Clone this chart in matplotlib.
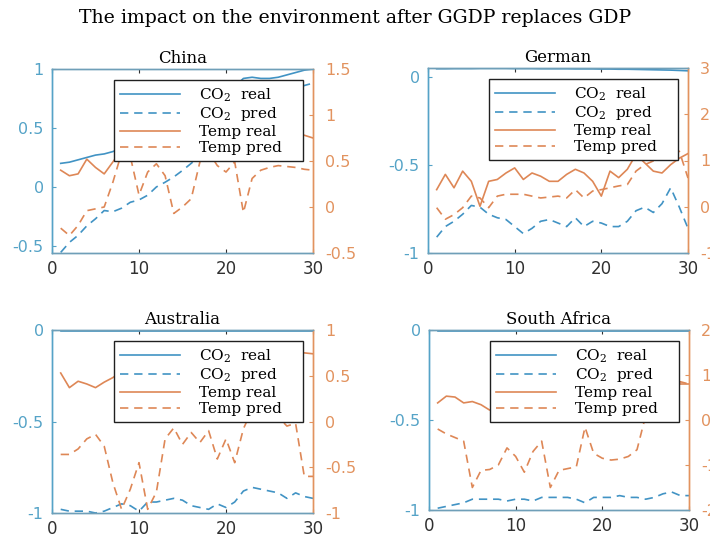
import matplotlib
matplotlib.use('Agg')
import matplotlib.pyplot as plt
import numpy as np

# --- DATA ---
x = np.arange(1, 31)

china_co2_real = [0.20, 0.21, 0.23, 0.25, 0.27, 0.28, 0.30, 0.33, 0.36, 0.40, 0.43, 0.47, 0.50, 0.54, 0.57,
                  0.61, 0.65, 0.69, 0.74, 0.79, 0.85, 0.92, 0.93, 0.92, 0.92, 0.93, 0.95, 0.97, 0.99, 1.00]
china_co2_pred = [-0.555, -0.47, -0.41, -0.33, -0.27, -0.20, -0.21, -0.18, -0.13, -0.11, -0.07, 0.0, 0.04, 0.085, 0.14,
                  0.20, 0.26, 0.31, 0.37, 0.42, 0.48, 0.53, 0.58, 0.63, 0.68, 0.73, 0.78, 0.83, 0.86, 0.88]
china_temp_real = [0.40, 0.34, 0.36, 0.52, 0.43, 0.36, 0.49, 0.62, 0.58, 0.66, 0.60, 0.64, 0.70, 0.62, 0.68,
                   0.72, 0.66, 0.74, 0.70, 0.64, 0.72, 0.68, 0.75, 0.70, 0.78, 0.72, 0.76, 0.80, 0.78, 0.75]
china_temp_pred = [-0.23, -0.31, -0.20, -0.04, -0.02, 0.0, 0.27, 0.59, 0.55, 0.13, 0.38, 0.47, 0.34, -0.07, 0.0,
                   0.09, 0.49, 0.60, 0.45, 0.38, 0.49, -0.06, 0.31, 0.40, 0.43, 0.45, 0.44, 0.43, 0.41, 0.40]

german_co2_real = [0.046, 0.046, 0.047, 0.047, 0.047, 0.048, 0.048, 0.048, 0.048, 0.047, 0.047, 0.047, 0.046, 0.046, 0.046,
                   0.046, 0.045, 0.045, 0.045, 0.044, 0.044, 0.043, 0.043, 0.042, 0.041, 0.040, 0.039, 0.038, 0.036, 0.034]
german_co2_pred = [-0.91, -0.85, -0.82, -0.78, -0.73, -0.74, -0.78, -0.80, -0.81, -0.85, -0.89, -0.86, -0.82, -0.81, -0.83,
                   -0.85, -0.80, -0.85, -0.82, -0.83, -0.85, -0.85, -0.82, -0.76, -0.74, -0.77, -0.72, -0.63, -0.74, -0.86]
german_temp_real = [0.37, 0.70, 0.41, 0.77, 0.55, 0.01, 0.55, 0.59, 0.73, 0.84, 0.59, 0.73, 0.66, 0.55, 0.55,
                    0.70, 0.81, 0.73, 0.55, 0.23, 0.77, 0.63, 0.81, 1.13, 0.95, 0.77, 0.73, 0.91, 1.05, 1.15]
german_temp_pred = [-0.02, -0.27, -0.17, -0.02, 0.23, 0.19, -0.02, 0.23, 0.27, 0.27, 0.27, 0.23, 0.19, 0.21, 0.23,
                    0.19, 0.37, 0.19, 0.34, 0.37, 0.41, 0.45, 0.48, 0.77, 0.91, 0.99, 1.06, 1.12, 1.20, 0.62]

aus_co2_real = [-0.004] * 30
aus_co2_pred = [-0.98, -0.99, -0.99, -0.99, -1.0, -0.99, -0.97, -0.95, -0.96, -0.99, -0.94, -0.94, -0.93, -0.92, -0.93,
                -0.96, -0.97, -0.98, -0.95, -0.97, -0.94, -0.88, -0.86, -0.87, -0.88, -0.89, -0.92, -0.89, -0.91, -0.92]
aus_temp_real = [0.53, 0.37, 0.44, 0.41, 0.37, 0.43, 0.48, 0.55, 0.50, 0.45, 0.52, 0.48, 0.55, 0.60, 0.52,
                 0.47, 0.55, 0.58, 0.50, 0.55, 0.62, 0.58, 0.65, 0.60, 0.55, 0.62, 0.68, 0.72, 0.75, 0.74]
aus_temp_pred = [-0.36, -0.36, -0.30, -0.19, -0.14, -0.27, -0.67, -0.96, -0.74, -0.45, -0.96, -0.77, -0.19, -0.07, -0.25,
                 -0.12, -0.23, -0.10, -0.41, -0.19, -0.45, -0.08, 0.13, 0.15, 0.10, 0.05, -0.05, -0.02, -0.60, -0.60]

sa_co2_real = [-0.005] * 30
sa_co2_pred = [-0.99, -0.98, -0.97, -0.96, -0.94, -0.94, -0.94, -0.94, -0.95, -0.94, -0.94, -0.95, -0.93, -0.93, -0.93,
               -0.93, -0.94, -0.96, -0.93, -0.93, -0.93, -0.92, -0.93, -0.93, -0.94, -0.93, -0.91, -0.90, -0.92, -0.92]
sa_temp_real = [0.38, 0.53, 0.51, 0.38, 0.41, 0.34, 0.22, 0.30, 0.40, 0.35, 0.45, 0.50, 0.42, 0.55, 0.48,
                0.52, 0.60, 0.55, 0.62, 0.58, 0.65, 0.60, 0.68, 0.70, 0.66, 0.72, 0.75, 0.78, 0.80, 0.80]
sa_temp_pred = [-0.20, -0.31, -0.39, -0.47, -1.50, -1.12, -1.10, -1.00, -0.62, -0.81, -1.16, -0.70, -0.47, -1.50, -1.12,
                -1.08, -1.04, -0.16, -0.74, -0.85, -0.89, -0.87, -0.81, -0.66, 0.10, 0.40, 0.50, 0.60, 0.85, 0.80]

countries = ['China', 'German', 'Australia', 'South Africa']
co2_real = [china_co2_real, german_co2_real, aus_co2_real, sa_co2_real]
co2_pred = [china_co2_pred, german_co2_pred, aus_co2_pred, sa_co2_pred]
temp_real = [china_temp_real, german_temp_real, aus_temp_real, sa_temp_real]
temp_pred = [china_temp_pred, german_temp_pred, aus_temp_pred, sa_temp_pred]

left_lims = [(-0.56, 1.0), (-1.0, 0.05), (-1.0, 0.0), (-1.0, 0.0)]
left_ticks = [[-0.5, 0, 0.5, 1], [-1, -0.5, 0], [-1, -0.5, 0], [-1, -0.5, 0]]
right_lims = [(-0.5, 1.5), (-1, 3), (-1, 1), (-2, 2)]
right_ticks = [[-0.5, 0, 0.5, 1, 1.5], [-1, 0, 1, 2, 3], [-1, -0.5, 0, 0.5, 1], [-2, -1, 0, 1, 2]]

# axes positions in pixels: left, top, right, bottom
W, H = 710, 543
boxes = [(52, 69, 313, 253), (428, 68, 688, 253), (52, 330, 313, 513), (429, 330, 689, 510)]

BLUE = '#4193c4'
ORANGE = '#de8756'
BLUE_TXT = '#55a3c7'
ORANGE_TXT = '#e2935f'

plt.rcParams['mathtext.fontset'] = 'dejavuserif'
plt.rcParams['axes.unicode_minus'] = False

fig = plt.figure(figsize=(W / 100, H / 100), dpi=100)
fig.text(0.5, 1 - 18 / H, 'The impact on the environment after GGDP replaces GDP',
         ha='center', va='center', family='DejaVu Serif', fontsize=13.6)

for i in range(4):
    l, t, r, b = boxes[i]
    ax = fig.add_axes([l / W, (H - b) / H, (r - l) / W, (b - t) / H])
    ax2 = ax.twinx()

    h1, = ax.plot(x, co2_real[i], color=BLUE, lw=1.2)
    h2, = ax.plot(x, co2_pred[i], color=BLUE, lw=1.2, dashes=(5, 3.5))
    h3, = ax2.plot(x, temp_real[i], color=ORANGE, lw=1.2)
    h4, = ax2.plot(x, temp_pred[i], color=ORANGE, lw=1.2, dashes=(5, 3.5))

    ax.set_xlim(0, 30)
    ax.set_xticks([0, 10, 20, 30])
    ax.set_ylim(*left_lims[i])
    ax.set_yticks(left_ticks[i])
    ax.set_yticklabels([f'{v:g}' for v in left_ticks[i]])
    ax2.set_ylim(*right_lims[i])
    ax2.set_yticks(right_ticks[i])
    ax2.set_yticklabels([f'{v:g}' for v in right_ticks[i]])

    ax.tick_params(axis='x', direction='in', top=True, length=3, labelsize=12, colors='#303030', pad=5)
    ax.tick_params(axis='y', direction='in', length=3, labelsize=11.5, colors=BLUE_TXT, pad=6)
    ax2.tick_params(axis='y', direction='in', length=3, labelsize=11.5, colors=ORANGE_TXT, pad=8.5)
    for a in (ax, ax2):
        a.spines['left'].set_color(BLUE_TXT)
        a.spines['right'].set_color(ORANGE_TXT)
        a.spines['top'].set_color('#6f9fb8')
        a.spines['bottom'].set_color('#6f9fb8')
        for s in a.spines.values():
            s.set_linewidth(1.0)

    ax.set_title(countries[i], family='DejaVu Serif', fontsize=12, pad=4)

    bx = 1 - 10 / (r - l)
    by = 1 - 11 / (b - t)
    leg = ax2.legend([h1, h2, h3, h4],
                     [r'$\mathrm{CO_2}$  real', r'$\mathrm{CO_2}$  pred', 'Temp real', 'Temp pred   '],
                     loc='upper right', bbox_to_anchor=(bx, by), borderaxespad=0,
                     prop={'family': 'DejaVu Serif', 'size': 11},
                     handlelength=3.9, handletextpad=1.3, labelspacing=0.12, borderpad=0.4,
                     fancybox=False, framealpha=1, edgecolor='#202020')
    leg.get_frame().set_linewidth(1.0)

plt.savefig('out.png', dpi=100)
